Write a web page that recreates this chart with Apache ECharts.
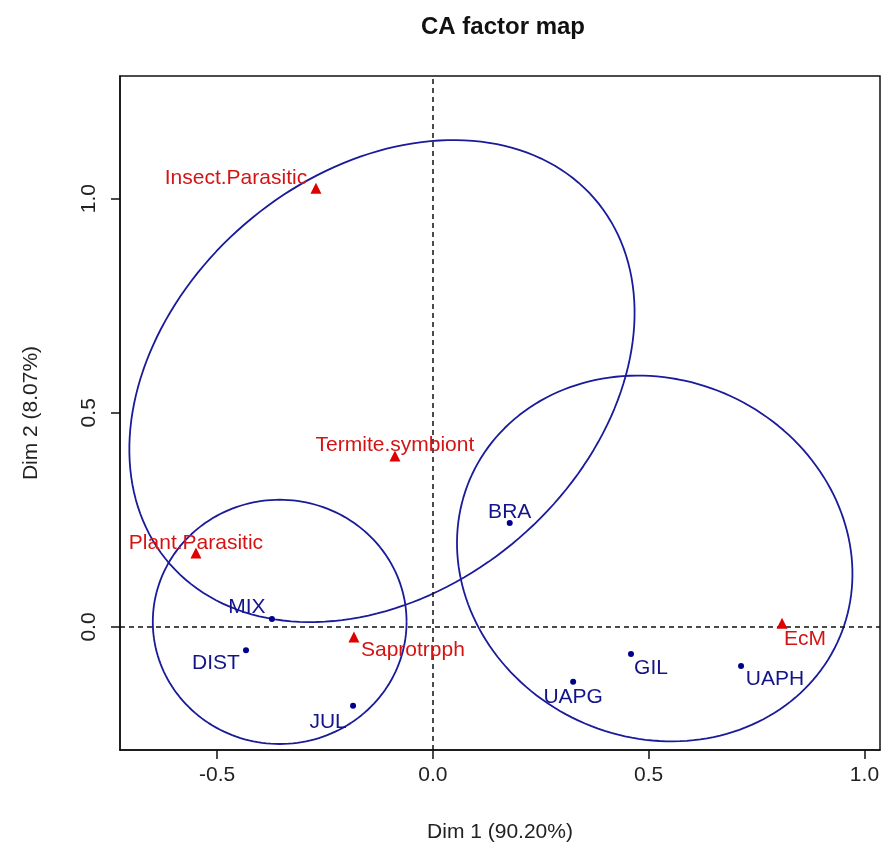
<!DOCTYPE html>
<html><head><meta charset="utf-8">
<script src="https://cdn.jsdelivr.net/npm/echarts@6/dist/echarts.min.js"></script>
<style>html,body{margin:0;padding:0;background:#fff}#c{width:883px;height:857px}</style>
</head><body><div id="c"></div>
<script>
// ---- data ----
const colNames = ['Insect.Parasitic', 'Termite.symbiont', 'Plant.Parasitic', 'Saprotrpph', 'EcM'];
const colX = [-0.271, -0.088, -0.549, -0.183, 0.809];
const colY = [1.024, 0.399, 0.173, -0.023, 0.009];
const rowNames = ['BRA', 'GIL', 'UAPH', 'UAPG', 'MIX', 'DIST', 'JUL'];
const rowX = [0.178, 0.459, 0.714, 0.325, -0.373, -0.433, -0.185];
const rowY = [0.243, -0.063, -0.091, -0.128, 0.019, -0.054, -0.184];
// confidence ellipses: centre, semi-axes, rotation (deg)
const ellCX = [-0.118, -0.355, 0.514];
const ellCY = [0.574, 0.012, 0.160];
const ellA = [0.651, 0.294, 0.4665];
const ellB = [0.485, 0.285, 0.4177];
const ellAngle = [41, 0, -25];
const xTicks = [-0.5, 0.0, 0.5, 1.0];
const yTicks = [0.0, 0.5, 1.0];

// ---- styles ----
const labelOffsets = {
  'Insect.Parasitic': [-80, -10], 'Termite.symbiont': [0, -11], 'Plant.Parasitic': [0, -10],
  'Saprotrpph': [59, 13], 'EcM': [23, 16],
  'BRA': [0, -11], 'GIL': [20, 14], 'UAPH': [34, 13], 'UAPG': [0, 15],
  'MIX': [-25, -12], 'DIST': [-30, 13], 'JUL': [-25, 16]
};
const FONT = 'Liberation Sans, Arial, sans-serif';
const RED = '#e00000', BLUE = '#00008b';

function ellipsePts(i) {
  const pts = [], th = ellAngle[i] * Math.PI / 180, n = 180;
  for (let k = 0; k <= n; k++) {
    const t = 2 * Math.PI * k / n;
    const u = ellA[i] * Math.cos(t), v = ellB[i] * Math.sin(t);
    pts.push([ellCX[i] + u * Math.cos(th) - v * Math.sin(th), ellCY[i] + u * Math.sin(th) + v * Math.cos(th)]);
  }
  return pts;
}
function pointItems(names, xs, ys) {
  return names.map((nm, i) => ({ name: nm, value: [xs[i], ys[i]], label: { offset: labelOffsets[nm] } }));
}

const series = [];
for (let i = 0; i < ellCX.length; i++) {
  series.push({ type: 'line', data: ellipsePts(i), showSymbol: false, silent: true, z: 2,
    lineStyle: { color: '#1a1a9a', width: 1.8 } });
}
series.push({ type: 'line', data: [], silent: true, z: 1,
  markLine: { silent: true, symbol: 'none', label: { show: false },
    lineStyle: { color: '#111', type: [5, 4], width: 1.5 },
    data: [{ xAxis: 0 }, { yAxis: 0 }] } });
series.push({ type: 'scatter', data: pointItems(colNames, colX, colY), symbol: 'triangle', symbolSize: 11, z: 5,
  itemStyle: { color: RED, opacity: 1 },
  label: { show: true, position: 'inside', formatter: '{b}', color: '#d41414', fontSize: 21, fontFamily: FONT } });
series.push({ type: 'scatter', data: pointItems(rowNames, rowX, rowY), symbol: 'circle', symbolSize: 6, z: 5,
  itemStyle: { color: BLUE, opacity: 1 },
  label: { show: true, position: 'inside', formatter: '{b}', color: '#14148a', fontSize: 21, fontFamily: FONT } });

const chart = echarts.init(document.getElementById('c'));
chart.setOption({
  animation: false,
  backgroundColor: '#fff',
  title: { text: 'CA factor map', left: 498, top: 10, textAlign: 'center',
    textStyle: { fontSize: 24, fontWeight: 'bold', color: '#111', fontFamily: FONT } },
  grid: { left: 120, right: 3, top: 76, bottom: 107, show: true, borderColor: '#111', borderWidth: 1.5, backgroundColor: 'transparent' },
  xAxis: {
    type: 'value', min: -0.725, max: 1.036,
    name: 'Dim 1 (90.20%)', nameLocation: 'middle', nameGap: 72,
    nameTextStyle: { fontSize: 21, color: '#222', fontFamily: FONT },
    axisLine: { show: true, onZero: false, lineStyle: { color: '#111', width: 1.5 } },
    axisTick: { show: true, inside: false, length: 9, customValues: xTicks, lineStyle: { color: '#111', width: 1.5 } },
    axisLabel: { customValues: xTicks, formatter: v => v.toFixed(1), fontSize: 21, color: '#222', margin: 15, fontFamily: FONT },
    splitLine: { show: false }
  },
  yAxis: {
    type: 'value', min: -0.287, max: 1.286,
    name: 'Dim 2 (8.07%)', nameLocation: 'middle', nameGap: 78, nameRotate: 90,
    nameTextStyle: { fontSize: 21, color: '#222', fontFamily: FONT },
    axisLine: { show: true, onZero: false, lineStyle: { color: '#111', width: 1.5 } },
    axisTick: { show: true, inside: false, length: 9, customValues: yTicks, lineStyle: { color: '#111', width: 1.5 } },
    axisLabel: { customValues: yTicks, rotate: 90, formatter: v => v.toFixed(1), fontSize: 21, color: '#222', margin: 20, fontFamily: FONT },
    splitLine: { show: false }
  },
  series: series
});
</script>
</body></html>
